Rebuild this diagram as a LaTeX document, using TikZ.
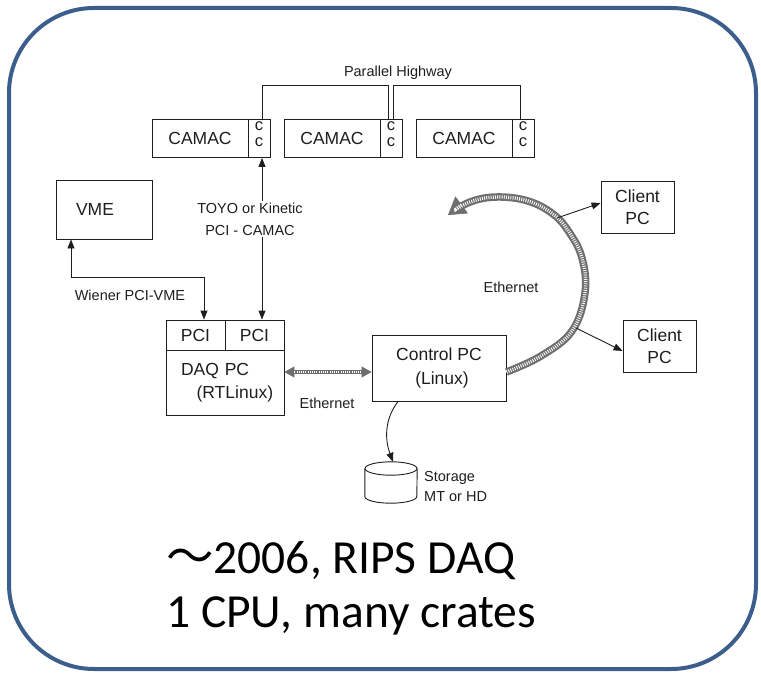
\documentclass[tikz,border=0pt]{standalone}
\usepackage{fontspec}
\setmainfont{Liberation Sans}
\newfontfamily\calib{Carlito}
\newfontfamily\cjk{Noto Sans CJK JP}
\usetikzlibrary{arrows.meta}
\definecolor{frameblue}{RGB}{59,94,140}
\definecolor{ink}{RGB}{30,30,30}
\definecolor{ethgray}{RGB}{110,110,110}
\newcommand{\biglbl}{\fontsize{17.5}{23}\selectfont}
\newcommand{\smalllbl}{\fontsize{14.5}{20}\selectfont}
\begin{document}
\begin{tikzpicture}[x=1pt,y=-1pt,
  >={Triangle[length=9pt,width=7pt]},
  box/.style={draw=ink, line width=0.9pt, inner sep=0pt, font=\biglbl, text=ink},
  ccbox/.style={box, minimum width=22pt, minimum height=38.5pt},
  cclbl/.style={font=\fontsize{16.5}{20}\selectfont, text=ink, inner sep=0pt},
  wire/.style={draw=ink, line width=0.9pt},
  small/.style={font=\smalllbl, text=ink, inner sep=0pt},
  ethsmall/.style={draw=ethgray, line width=4pt,
    {Triangle[length=10pt,width=11pt,line width=0.6pt,fill=ethgray]}-{Triangle[length=10pt,width=11pt,line width=0.6pt,fill=ethgray]},
    postaction={draw=white, line width=1.8pt, dash pattern=on 0.9pt off 1.3pt, -,
      shorten <=10pt, shorten >=10pt}},
  ethbig/.style={draw=ethgray, line width=7.5pt,
    -{Triangle[length=17pt,width=21pt,line width=0.6pt,fill=ethgray]},
    postaction={draw=white, line width=3.4pt, dash pattern=on 0.9pt off 1.3pt, -,
      shorten >=17pt}}]

\useasboundingbox (0,0) rectangle (761,674);

% rounded frame
\draw[frameblue, line width=4pt, rounded corners=85pt] (9,8) rectangle (756,669);

% CAMAC crates with crate controllers
\node[box, minimum width=96pt, minimum height=38.5pt] (cam1) at (200,138.25) {CAMAC};
\node[ccbox] (cc1) at (259,138.25) {};
\node[box, minimum width=96pt, minimum height=38.5pt] (cam2) at (332,138.25) {CAMAC};
\node[ccbox] (cc2) at (391,138.25) {};
\node[box, minimum width=96pt, minimum height=38.5pt] (cam3) at (464,138.25) {CAMAC};
\node[ccbox] (cc3) at (523,138.25) {};
\foreach \c in {cc1,cc2,cc3}{
  \node[cclbl] (\c up) at ([yshift=12.5pt]\c.center) {c};
  \node[cclbl] (\c lo) at ([yshift=-3.5pt]\c.center) {c};
}

% parallel highway
\draw[wire] ([xshift=3pt]cc1.north) -- ++(0,-33) -| ([xshift=-3pt]cc2.north);
\draw[wire] ([xshift=2pt]cc2.north) -- ++(0,-33) -| ([xshift=-3pt]cc3.north);
\node[small] (phw) at (398,73) {Parallel Highway};

% VME crate
\node[box, minimum width=96pt, minimum height=59pt, text width=56pt, inner xsep=20pt,
      align=left] (vme) at (104,209.5) {VME};

% DAQ PC with two PCI cards
\node[box, minimum width=59pt, minimum height=30pt] (pci1) at (195.5,335) {PCI};
\node[box, minimum width=59pt, minimum height=30pt] (pci2) at (254.5,335) {PCI};
\node[box, minimum width=118pt, minimum height=65pt, text width=88pt, inner xsep=15pt,
      align=left] (daq) at (225,382.5) {DAQ PC\\\hspace*{15.6pt}(RTLinux)};

% VME link
\draw[wire, <->] ([xshift=-33pt]vme.south) -- ++(0,38) -| ([xshift=8.5pt]pci1.north);
\node[small] (wien) at (130,295) {Wiener PCI-VME};

% CAMAC link
\draw[wire, <->] ([xshift=3pt]cc1.south) --
  node[pos=0.38, xshift=-12pt, small, fill=white, inner sep=2pt, align=center,
       font=\fontsize{14.5}{21.5}\selectfont] (toyo) {TOYO or Kinetic\\PCI - CAMAC}
  ([xshift=3pt]cc1.south |- pci2.north);

% control PC
\node[box, minimum width=134pt, minimum height=66pt, align=center,
      font=\fontsize{17.5}{24}\selectfont] (ctrl) at (439,368) {Control PC\\\hspace*{6pt}(Linux)};

% Ethernet between DAQ and control PCs
\draw[ethsmall] (daq.east |- 0,372) -- (ctrl.west |- 0,372);
\node[small] (eth1) at (327,403) {Ethernet};

% storage
\node[minimum width=52pt, minimum height=41pt, inner sep=0pt] (stor) at (391,482.5) {};
\draw[wire] ([yshift=-6.7pt]stor.north) ellipse [x radius=26pt, y radius=6.7pt];
\draw[wire] ([yshift=-6.7pt]stor.north west) -- ([yshift=6.7pt]stor.south west)
  arc[start angle=180, end angle=360, x radius=26pt, y radius=6.7pt]
  -- ([yshift=-6.7pt]stor.north east);
\draw[wire, ->] ([xshift=-41pt]ctrl.south) .. controls (384,420) and (385,440) .. ([xshift=2pt]stor.north);
\node[small, anchor=west, align=left] (storlbl) at (424,487) {Storage\\MT or HD};

% client PCs
\node[box, minimum width=73pt, minimum height=52pt, align=center,
      font=\fontsize{17.5}{22}\selectfont] (cl1) at (637.5,207) {Client\\PC};
\node[box, minimum width=73pt, minimum height=52pt, align=center,
      font=\fontsize{17.5}{22}\selectfont] (cl2) at (659.5,346) {Client\\PC};

% Ethernet ring
\coordinate (arcstart) at (ctrl.east |- 0,372);
\coordinate (tap1) at (557,218);
\coordinate (tap2) at (576,328);
\draw[ethbig] plot[smooth, tension=0.65] coordinates {(arcstart) (541,356) (572,331) (585,293)
  (582,258) (569,232) (553,214) (528,201) (497,197) (470,202) (448,215)};
\node[small] (eth2) at (511,287) {Ethernet};
\draw[wire, ->] (tap1) -- (cl1.west |- 0,203);
\draw[wire, ->] (tap2) -- (cl2.west |- 0,351);

% caption
\node[anchor=base west, inner sep=0pt, font=\calib\fontsize{47.5}{56}\selectfont] (cap1)
  at (166,573) {{\cjk ～}2006, RIPS DAQ};
\node[anchor=base west, inner sep=0pt, font=\calib\fontsize{47.5}{56}\selectfont] (cap2)
  at (166,627) {1 CPU, many crates};
\end{tikzpicture}
\end{document}
